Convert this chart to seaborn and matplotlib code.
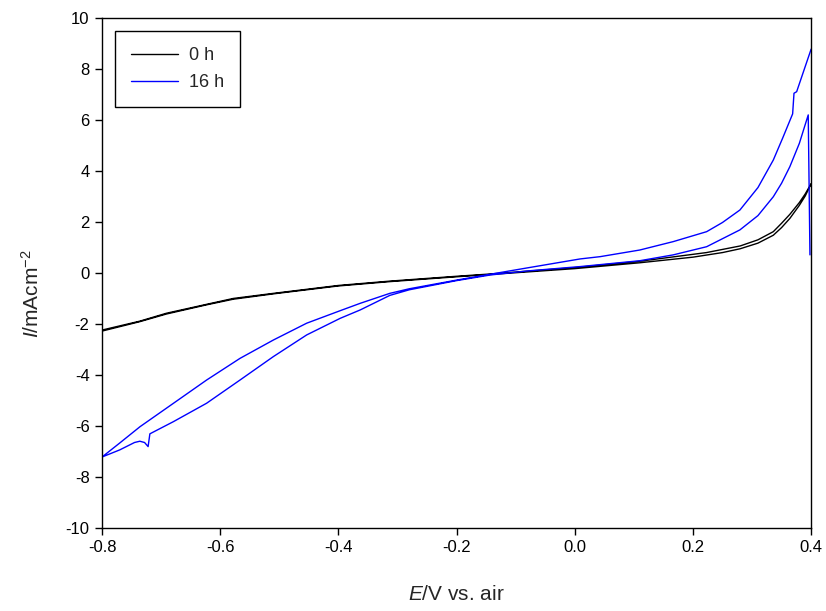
import matplotlib
matplotlib.use("Agg")
import matplotlib.pyplot as plt
import seaborn as sns
import pandas as pd

# 0 h : forward scan (-0.8 -> 0.4) then reverse (0.4 -> -0.8)
e_0h = [-0.800, -0.736, -0.691, -0.623, -0.578, -0.510, -0.482, -0.400, -0.313, -0.200, -0.143,
        0.000, 0.110, 0.200, 0.250, 0.280, 0.310, 0.336, 0.350, 0.364, 0.380, 0.390, 0.400,
        0.390, 0.380, 0.364, 0.350, 0.336, 0.310, 0.280, 0.223, 0.110, 0.000, -0.143, -0.200,
        -0.313, -0.400, -0.510, -0.578, -0.623, -0.691, -0.736, -0.800]
i_0h = [-2.28, -1.91, -1.61, -1.25, -1.03, -0.82, -0.74, -0.51, -0.34, -0.15, -0.06,
        0.17, 0.40, 0.62, 0.80, 0.95, 1.17, 1.48, 1.78, 2.14, 2.65, 3.02, 3.50,
        3.10, 2.76, 2.30, 1.95, 1.62, 1.30, 1.06, 0.80, 0.46, 0.21, -0.04, -0.13,
        -0.32, -0.49, -0.80, -1.00, -1.23, -1.58, -1.89, -2.24]

# 16 h : reverse branch 0.4 -> -0.8, then forward branch -0.8 -> 0.4
e_16h = [0.400, 0.3755, 0.371, 0.3687, 0.352, 0.336, 0.310, 0.2795, 0.250, 0.2232, 0.1667,
         0.110, 0.043, 0.009, -0.080, -0.143, -0.200, -0.280, -0.313, -0.363, -0.397,
         -0.4536, -0.510, -0.5665, -0.623, -0.679, -0.7357, -0.770, -0.800,
         -0.770, -0.745, -0.736, -0.728, -0.722, -0.719, -0.679, -0.623, -0.5665, -0.510,
         -0.4536, -0.397, -0.363, -0.313, -0.280, -0.200, -0.143, -0.080, 0.009, 0.110,
         0.1667, 0.2232, 0.2795, 0.310, 0.336, 0.350, 0.364, 0.380, 0.3951, 0.398]
i_16h = [8.78, 7.11, 7.05, 6.24, 5.30, 4.43, 3.35, 2.47, 1.98, 1.62, 1.23,
         0.90, 0.64, 0.55, 0.20, -0.05, -0.28, -0.62, -0.80, -1.19, -1.48,
         -1.97, -2.63, -3.35, -4.20, -5.11, -6.03, -6.67, -7.22,
         -6.94, -6.65, -6.60, -6.65, -6.81, -6.31, -5.83, -5.11, -4.20, -3.28,
         -2.43, -1.78, -1.45, -0.88, -0.66, -0.30, -0.08, 0.08, 0.25, 0.48,
         0.71, 1.03, 1.69, 2.25, 2.99, 3.52, 4.17, 5.08, 6.20, 0.71]

x_ticks = [-0.8, -0.6, -0.4, -0.2, 0.0, 0.2, 0.4]
y_ticks = [-10, -8, -6, -4, -2, 0, 2, 4, 6, 8, 10]

sns.set_style("ticks")
plt.rcParams['font.family'] = ['Liberation Sans', 'DejaVu Sans']
plt.rcParams['mathtext.fontset'] = 'custom'
plt.rcParams['mathtext.rm'] = 'Liberation Sans'
plt.rcParams['mathtext.it'] = 'Liberation Sans:italic'

fig = plt.figure(figsize=(8.26, 6.11), dpi=100)
ax = fig.add_axes([0.1235, 0.136, 0.8585, 0.8345])

df0 = pd.DataFrame({"E": e_0h, "I": i_0h})
df16 = pd.DataFrame({"E": e_16h, "I": i_16h})
sns.lineplot(data=df0, x="E", y="I", sort=False, estimator=None, color="black",
             linewidth=1.0, label="0 h", ax=ax)
sns.lineplot(data=df16, x="E", y="I", sort=False, estimator=None, color="#0000FF",
             linewidth=1.0, label="16 h", ax=ax)

ax.set_xlim(-0.8, 0.4)
ax.set_ylim(-10, 10)
ax.set_xticks(x_ticks)
ax.set_xticklabels([f"{v:.1f}" for v in x_ticks])
ax.set_yticks(y_ticks)
ax.set_yticklabels([str(v) for v in y_ticks])
ax.tick_params(direction="out", length=5, width=1, labelsize=12, colors="black", pad=4)
for s in ax.spines.values():
    s.set_visible(True)
    s.set_linewidth(1.0)
    s.set_color("black")

ax.set_xlabel(r"$\mathit{E}$/V vs. air", fontsize=15)
ax.set_ylabel(r"$\mathit{I}$/mAcm$^{-2}$", fontsize=15)
ax.xaxis.set_label_coords(0.5, -0.112)
ax.yaxis.set_label_coords(-0.083, 0.46)

leg = ax.legend(loc="upper left", bbox_to_anchor=(0.018, 0.975), borderaxespad=0,
                fontsize=13, frameon=True, fancybox=False, edgecolor="black", framealpha=1,
                handlelength=2.6, handletextpad=0.6, borderpad=0.9, labelspacing=0.55)
leg.get_frame().set_linewidth(1.0)

fig.savefig("out.png", dpi=100)
